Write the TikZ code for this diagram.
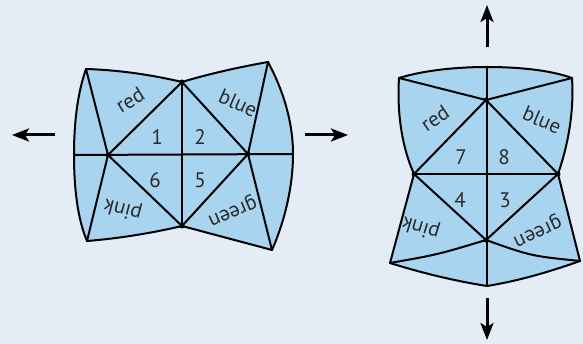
\documentclass[tikz,border=0pt]{standalone}
\usepackage{fontspec}
\setmainfont{PT Sans}
\usetikzlibrary{arrows.meta}
\definecolor{bg}{HTML}{E4ECF5}
\definecolor{paper}{HTML}{A9D4F0}
\definecolor{txt}{HTML}{2A2A2A}
\begin{document}
\begin{tikzpicture}[x=1pt,y=-1pt,
  fold/.style={line width=2pt, line join=round, line cap=round},
  lbl/.style={font=\fontsize{21}{23}\selectfont, text=txt, inner sep=0pt},
  vtx/.style={circle, fill=black, inner sep=0pt, minimum size=5pt},
  move/.style={line width=3pt, -{Stealth[length=17pt,width=13pt,inset=4pt]}}]
\fill[bg] (0,0) rectangle (583,344);
\useasboundingbox (0,0) rectangle (583,344);
% ---------- left fortune teller ----------
\coordinate (aTL) at (86,69);
\coordinate (aMt) at (182,82);
\coordinate (aTR) at (268,62);
\coordinate (aLf) at (74,155);
\coordinate (aL) at (108,155);
\coordinate (aR) at (248,154);
\coordinate (aRf) at (293,154);
\coordinate (aMb) at (182,226);
\coordinate (aBL) at (87,241);
\coordinate (aBR) at (272,250);
\filldraw[fill=paper, fold] (aTL) .. controls (118,70) and (150,74.5) .. (aMt)
  .. controls (210,73.5) and (240,67) .. (aTR)
  .. controls (282,88) and (293,120) .. (aRf)
  .. controls (293,190) and (283,225) .. (aBR) -- (aMb)
  .. controls (150,233.5) and (118,238.5) .. (aBL)
  .. controls (78,220) and (74,190) .. (aLf)
  .. controls (74,120) and (78,92) .. cycle;
\draw[fold] (aTL) -- (aL) -- (aBL);
\draw[fold] (aTR) -- (aR) -- (aBR);
\draw[fold] (aLf) -- (aRf);
\draw[fold] (aMt) -- (aMb);
\draw[fold] (aL) -- (aMt) -- (aR) -- (aMb) -- cycle;
\foreach \v in {aL,aR,aMt,aMb} \node[vtx] (\v d) at (\v) {};
\node[lbl, rotate=32] (ared) at (130,100) {red};
\node[lbl, rotate=-24] (ablue) at (238,103) {blue};
\node[lbl] (a1) at (157,137) {1};
\node[lbl] (a2) at (200,137) {2};
\node[lbl] (a6) at (155,180) {6};
\node[lbl] (a5) at (200,180) {5};
\node[lbl, rotate=165] (apink) at (123,209) {pink};
\node[lbl, rotate=203] (agreen) at (232,210) {green};
% ---------- right fortune teller ----------
\coordinate (bTL) at (399,78);
\coordinate (bTm) at (487,67);
\coordinate (bTR) at (572,78);
\coordinate (bCt) at (486,100);
\coordinate (bL) at (414,174);
\coordinate (bR) at (558,174);
\coordinate (bCb) at (486,240);
\coordinate (bBL) at (390,263);
\coordinate (bBR) at (580,261);
\coordinate (bBm) at (487,286);
\filldraw[fill=paper, fold] (bTL) .. controls (425,70) and (458,67) .. (bTm)
  .. controls (518,67) and (550,70) .. (bTR)
  .. controls (574,110) and (569,142) .. (bR) -- (bBR)
  .. controls (549,272) and (518,281) .. (bBm)
  .. controls (455,281) and (422,273) .. (bBL) -- (bL)
  .. controls (401,145) and (397,110) .. cycle;
\draw[fold] (bTL) -- (bCt) -- (bTR);
\draw[fold] (bTm) -- (bBm);
\draw[fold] (bL) -- (bR);
\draw[fold] (bL) -- (bCt) -- (bR) -- (bCb) -- cycle;
\draw[fold] (bBL) .. controls (438,254.5) .. (bCb);
\draw[fold] (bCb) .. controls (531,256) .. (bBR);
\foreach \v in {bL,bR,bCt,bCb} \node[vtx] (\v d) at (\v) {};
\node[lbl, rotate=34] (bred) at (435,118) {red};
\node[lbl, rotate=-23] (bblue) at (542,120) {blue};
\node[lbl] (b7) at (461,157) {7};
\node[lbl] (b8) at (504,157) {8};
\node[lbl] (b4) at (460,200) {4};
\node[lbl] (b3) at (505,200) {3};
\node[lbl, rotate=163] (bpink) at (421,227) {pink};
\node[lbl, rotate=205] (bgreen) at (537,230) {green};
% ---------- arrows ----------
\coordinate (la1) at (55,135); \coordinate (la2) at (12,135);
\coordinate (ra1) at (305,135); \coordinate (ra2) at (348,135);
\coordinate (ua1) at (487,47); \coordinate (ua2) at (487,5);
\coordinate (da1) at (487,298); \coordinate (da2) at (487,340);
\draw[move] (la1) -- (la2);
\draw[move] (ra1) -- (ra2);
\draw[move] (ua1) -- (ua2);
\draw[move] (da1) -- (da2);
\end{tikzpicture}
\end{document}
